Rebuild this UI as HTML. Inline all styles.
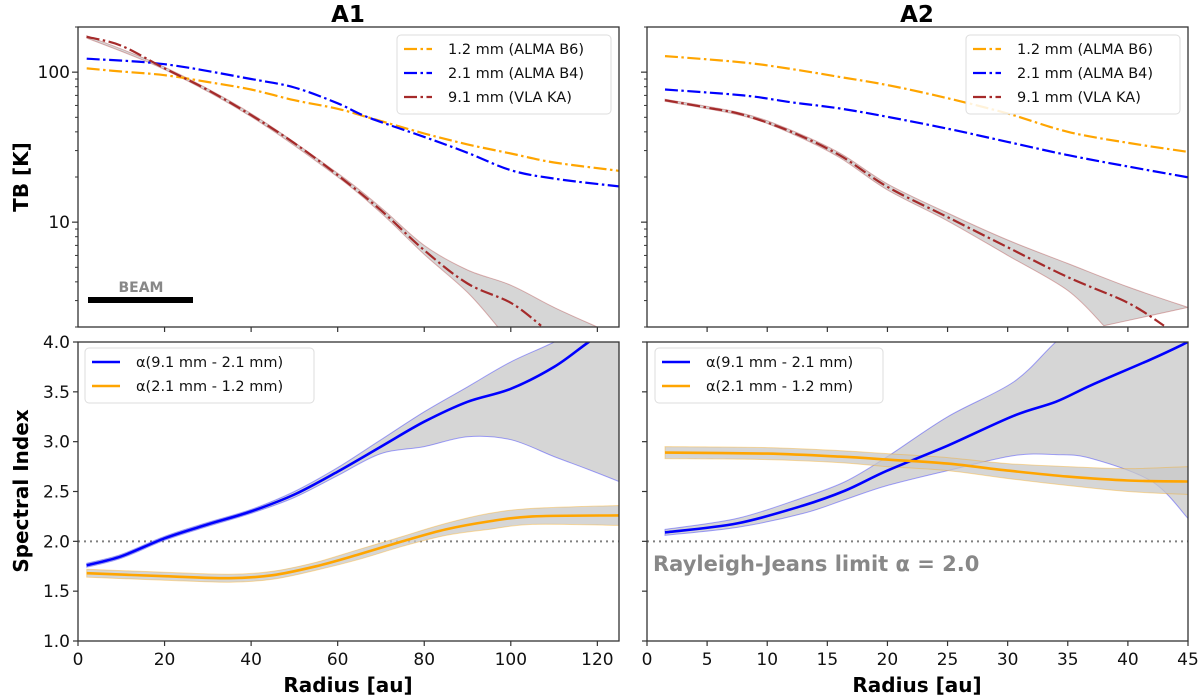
<!DOCTYPE html>
<html><head><meta charset="utf-8">
<style>
body{margin:0;background:#fff;}
svg{display:block;font-family:"DejaVu Sans","Liberation Sans",sans-serif;}
</style></head>
<body>
<svg id="chart" width="1200" height="698" viewBox="0 0 1200 698"></svg>
<script>
// ---------- data ----------
const a1TopX = [2,10,20,30,40,50,60,67,80,90,100,110,125];
const a1B6 = [106,101,95.5,86,76.6,65,57,50,39,33,28.7,25,22];
const a1B4x = [2,20,40,50,60,67,80,90,100,110,125];
const a1B4 = [123,113,90,79,62,50,37,29,22.2,19.5,17.3];
const a1KAx = [2,10,20,30,40,50,60,70,80,90,100,107];
const a1KA = [172,150,106,76,51.7,33.6,20.6,12,6.5,3.9,2.9,2.04];
const a1KAupX = [2,20,40,60,70,80,90,100,110,120];
const a1KAup = [175,108,53,21.2,12.5,7,4.8,3.8,2.7,2.0];
const a1KAloX = [2,20,40,60,70,80,90,97];
const a1KAlo = [169,104,50.5,20,11.5,6.1,3.4,2.0];

const a2TopX = [1.5,8,12,16,20,25,30,35,40,45];
const a2B6 = [128,116,105,93,82,67,53,40,33.8,29.4];
const a2B4 = [76.6,70,63,57.3,50.4,42,34.3,28,23.5,19.9];
const a2KAx = [1.5,5,8,12,16,20,25,30,35,40,43];
const a2KA = [65,58,52,40,28,17.2,10.8,6.8,4.3,2.9,2.04];
const a2KAupX = [1.5,8,12,16,20,25,30,35,40,45];
const a2KAup = [66,53,41,29,18,11.5,7.6,5.3,3.7,2.7];
const a2KAloX = [1.5,8,12,16,20,25,30,35,38];
const a2KAlo = [64,51,39,27,16.4,10.2,6.0,3.5,2.04];

const a1AlX = [2,10,20,30,40,50,60,70,80,90,100,110,118,125];
const a1Blue = [1.76,1.85,2.03,2.17,2.3,2.47,2.7,2.95,3.2,3.4,3.53,3.75,4.0,4.2];
const a1BlueUp = [1.78,1.87,2.05,2.19,2.32,2.5,2.74,3.02,3.3,3.55,3.8,4.0,4.2,4.4];
const a1BlueLo = [1.74,1.83,2.01,2.15,2.28,2.44,2.66,2.88,2.95,3.05,3.02,2.85,2.72,2.6];
const a1OrX = [2,20,35,45,55,65,75,85,95,105,125];
const a1Or = [1.68,1.65,1.63,1.66,1.75,1.87,2.0,2.12,2.2,2.25,2.26];
const a1OrUp = [1.72,1.69,1.67,1.7,1.79,1.92,2.05,2.18,2.28,2.33,2.36];
const a1OrLo = [1.64,1.61,1.59,1.62,1.71,1.82,1.95,2.06,2.12,2.17,2.16];

const a2AlX = [1.5,7.5,13,16.5,20,25,30.5,34,37,42,45];
const a2Blue = [2.09,2.18,2.36,2.51,2.71,2.96,3.26,3.4,3.57,3.83,4.0];
const a2BlueUp = [2.12,2.23,2.44,2.6,2.85,3.25,3.6,4.0,4.3,4.6,4.8];
const a2BlueLo = [2.06,2.14,2.28,2.42,2.56,2.71,2.86,2.87,2.83,2.6,2.23];
const a2OrX = [1.5,10,16,20,25,30,35,40,45];
const a2Or = [2.89,2.88,2.85,2.82,2.78,2.71,2.65,2.61,2.6];
const a2OrUp = [2.95,2.94,2.91,2.88,2.84,2.78,2.75,2.73,2.75];
const a2OrLo = [2.83,2.82,2.79,2.75,2.71,2.63,2.56,2.5,2.47];

const leftXTicks = [0,20,40,60,80,100,120];
const rightXTicks = [0,5,10,15,20,25,30,35,40,45];
const alphaTicks = [1.0,1.5,2.0,2.5,3.0,3.5,4.0];
const logMajor = [10,100];

// ---------- layout ----------
const NS = "http://www.w3.org/2000/svg";
const svg = document.getElementById('chart');
function el(tag, attrs, parent, text){
  const e = document.createElementNS(NS, tag);
  for (const k in attrs) e.setAttribute(k, attrs[k]);
  if (text !== undefined) e.textContent = text;
  (parent||svg).appendChild(e);
  return e;
}
const P = {
  tl:{x0:78,x1:619,y0:27,y1:327,xmax:125,log:true},
  tr:{x0:647,x1:1188,y0:27,y1:327,xmax:45,log:true},
  bl:{x0:78,x1:619,y0:342,y1:641,xmax:125,log:false},
  br:{x0:647,x1:1188,y0:342,y1:641,xmax:45,log:false}
};
function sx(p,v){return p.x0+(v/p.xmax)*(p.x1-p.x0);}
function sy(p,v){
  if(p.log){const l=Math.log10(v);return p.y1-(l-Math.log10(2))/(Math.log10(200)-Math.log10(2))*(p.y1-p.y0);}
  return p.y1-(v-1)/3*(p.y1-p.y0);
}
function smoothPath(pts){
  let d='M'+pts[0][0].toFixed(1)+','+pts[0][1].toFixed(1);
  for(let i=0;i<pts.length-1;i++){
    const p0=pts[i-1]||pts[i],p1=pts[i],p2=pts[i+1],p3=pts[i+2]||p2;
    const c1=[p1[0]+(p2[0]-p0[0])/6,p1[1]+(p2[1]-p0[1])/6];
    const c2=[p2[0]-(p3[0]-p1[0])/6,p2[1]-(p3[1]-p1[1])/6];
    d+=' C'+c1.map(v=>v.toFixed(1)).join(',')+' '+c2.map(v=>v.toFixed(1)).join(',')+' '+p2[0].toFixed(1)+','+p2[1].toFixed(1);
  }
  return d;
}
function pts(p,xs,ys){return xs.map((x,i)=>[sx(p,x),sy(p,ys[i])]);}
function clip(p,id){
  const defs=el('defs',{});
  const c=el('clipPath',{id:id},defs);
  el('rect',{x:p.x0,y:p.y0,width:p.x1-p.x0,height:p.y1-p.y0},c);
}
function band(p,g,xu,yu,xl,yl,col,name){
  const up=pts(p,xu,yu), lo=pts(p,xl,yl).reverse();
  const lp=smoothPath(lo);
  let d=smoothPath(up)+' L'+lo[0][0].toFixed(1)+','+lo[0][1].toFixed(1)+lp.slice(lp.indexOf('C')-1)+' Z';
  const b=el('path',{d:d,fill:'#c8c8c8','fill-opacity':0.75,stroke:col,'stroke-opacity':0.35,'stroke-width':1},g);
  
  
}
function line(p,g,xs,ys,col,dash,name){
  const l=el('path',{d:smoothPath(pts(p,xs,ys)),fill:'none',stroke:col,'stroke-width':dash?2.2:2.6,'stroke-dasharray':dash?'13,3.5,2.5,3.5':'none'},g);
  
  
}
function frame(p,name,ticks,yticks,showXLabels,showYLabels){
  const g=el('g',{});
  
  
  ticks.forEach(t=>{
    const x=sx(p,t);
    el('line',{x1:x,x2:x,y1:p.y1,y2:p.y1+5,stroke:'#333','stroke-width':1.2},g);
    if(showXLabels){
      const tl=el('text',{x:x,y:p.y1+24,'font-size':17,'text-anchor':'middle',fill:'#111'},g,String(t));
      
      
    }
  });
  if(p.log){
    for(let d=1;d<=100;d*=10){for(let m=2;m<=9;m++){const v=d*m;if(v<2||v>200)continue;const y=sy(p,v);el('line',{x1:p.x0-3,x2:p.x0,y1:y,y2:y,stroke:'#333','stroke-width':1},g);}}
    logMajor.forEach(v=>{const y=sy(p,v);el('line',{x1:p.x0-6,x2:p.x0,y1:y,y2:y,stroke:'#333','stroke-width':1.2},g);
      if(showYLabels){const tl=el('text',{x:p.x0-8,y:y+6,'font-size':17,'text-anchor':'end',fill:'#111'},g,String(v));
      }});
  } else {
    yticks.forEach(v=>{const y=sy(p,v);el('line',{x1:p.x0-5,x2:p.x0,y1:y,y2:y,stroke:'#333','stroke-width':1.2},g);
      if(showYLabels){const tl=el('text',{x:p.x0-8,y:y+6,'font-size':17,'text-anchor':'end',fill:'#111'},g,v.toFixed(1));
      }});
  }
  el('rect',{x:p.x0,y:p.y0,width:p.x1-p.x0,height:p.y1-p.y0,fill:'none',stroke:'#333','stroke-width':1.3},g);
}
function legend(x,y,w,h,items,name,dash){
  const g=el('g',{});
  
  
  el('rect',{x:x,y:y,width:w,height:h,rx:4,fill:'#fff','fill-opacity':0.85,stroke:'#ddd'},g);
  items.forEach((it,i)=>{
    const yy=y+14+i*24;
    el('line',{x1:x+7,x2:x+35,y1:yy,y2:yy,stroke:it[1],'stroke-width':dash?2.2:2.6,'stroke-dasharray':dash?'13,3.5,2.5,3.5':'none'},g);
    const t=el('text',{x:x+51,y:yy+5,'font-size':14.5,fill:'#111'},g,it[0]);
    
    
  });
  return g;
}
const OR='#ffa500',BL='#0000ff',RD='#a52a2a';

[['tl','a1-top'],['tr','a2-top'],['bl','a1-bottom'],['br','a2-bottom']].forEach(([k,n])=>clip(P[k],'c-'+k));

// A1 top
let g=el('g',{'clip-path':'url(#c-tl)'});

band(P.tl,g,a1KAupX,a1KAup,a1KAloX,a1KAlo,RD,'a1-ka-uncertainty-band');
line(P.tl,g,a1TopX,a1B6,OR,true,'a1-b6-line');
line(P.tl,g,a1B4x,a1B4,BL,true,'a1-b4-line');
line(P.tl,g,a1KAx,a1KA,RD,true,'a1-ka-line');
frame(P.tl,'a1-top',leftXTicks.slice(1),null,false,true);

// A2 top
g=el('g',{'clip-path':'url(#c-tr)'});

band(P.tr,g,a2KAupX,a2KAup,a2KAloX,a2KAlo,RD,'a2-ka-uncertainty-band');
line(P.tr,g,a2TopX,a2B6,OR,true,'a2-b6-line');
line(P.tr,g,a2TopX,a2B4,BL,true,'a2-b4-line');
line(P.tr,g,a2KAx,a2KA,RD,true,'a2-ka-line');
frame(P.tr,'a2-top',rightXTicks.slice(1,-1),null,false,false);

// A1 bottom
g=el('g',{'clip-path':'url(#c-bl)'});

el('line',{x1:P.bl.x0,x2:P.bl.x1,y1:sy(P.bl,2),y2:sy(P.bl,2),stroke:'#808080','stroke-width':2,'stroke-dasharray':'2,4'},g);
band(P.bl,g,a1AlX,a1BlueUp,a1AlX,a1BlueLo,BL,'a1-blue-band');
band(P.bl,g,a1OrX,a1OrUp,a1OrX,a1OrLo,OR,'a1-orange-band');
line(P.bl,g,a1AlX,a1Blue,BL,false,'a1-alpha-9-2-line');
line(P.bl,g,a1OrX,a1Or,OR,false,'a1-alpha-2-1-line');
frame(P.bl,'a1-bottom',leftXTicks,alphaTicks,true,true);

// A2 bottom
g=el('g',{'clip-path':'url(#c-br)'});

el('line',{x1:P.br.x0,x2:P.br.x1,y1:sy(P.br,2),y2:sy(P.br,2),stroke:'#808080','stroke-width':2,'stroke-dasharray':'2,4'},g);
band(P.br,g,a2AlX,a2BlueUp,a2AlX,a2BlueLo,BL,'a2-blue-band');
band(P.br,g,a2OrX,a2OrUp,a2OrX,a2OrLo,OR,'a2-orange-band');
line(P.br,g,a2AlX,a2Blue,BL,false,'a2-alpha-9-2-line');
line(P.br,g,a2OrX,a2Or,OR,false,'a2-alpha-2-1-line');
frame(P.br,'a2-bottom',rightXTicks,alphaTicks,true,false);

const topItems=[['1.2 mm (ALMA B6)',OR],['2.1 mm (ALMA B4)',BL],['9.1 mm (VLA KA)',RD]];
legend(397,35,214,79,topItems,'a1-top-legend',true);
legend(966,35,214,79,topItems,'a2-top-legend',true);
const botItems=[['α(9.1 mm - 2.1 mm)',BL],['α(2.1 mm - 1.2 mm)',OR]];
legend(85,348,229,55,botItems,'a1-bottom-legend',false);
legend(655,348,228,55,botItems,'a2-bottom-legend',false);
</script>
<script>
(function(){
const NS="http://www.w3.org/2000/svg";const svg=document.getElementById('chart');
function t(x,y,s,txt,name,extra){const e=document.createElementNS(NS,'text');e.setAttribute('x',x);e.setAttribute('y',y);e.setAttribute('font-size',s);e.setAttribute('font-weight','bold');e.setAttribute('text-anchor','middle');
for(const k in (extra||{}))e.setAttribute(k,extra[k]);e.textContent=txt;


svg.appendChild(e);return e;}
t(348,22,23,'A1','a1-title');
t(917,22,23,'A2','a2-title');
t(348,692,20,'Radius [au]','a1-x-axis-title');
t(917,692,20,'Radius [au]','a2-x-axis-title');
t(0,0,20,'TB [K]','top-y-axis-title',{transform:'translate(28,177) rotate(-90)'});
t(0,0,20,'Spectral Index','bottom-y-axis-title',{transform:'translate(28,491) rotate(-90)'});
t(141,292,14,'BEAM','beam-label',{fill:'#888'});
const b=document.createElementNS(NS,'rect');b.setAttribute('x',88);b.setAttribute('y',297);b.setAttribute('width',105);b.setAttribute('height',6);b.setAttribute('fill','#000');


svg.appendChild(b);
t(653,571,21,'Rayleigh-Jeans limit α = 2.0','rayleigh-jeans-label',{fill:'#888','text-anchor':'start'});
})();
</script>
</body></html>
